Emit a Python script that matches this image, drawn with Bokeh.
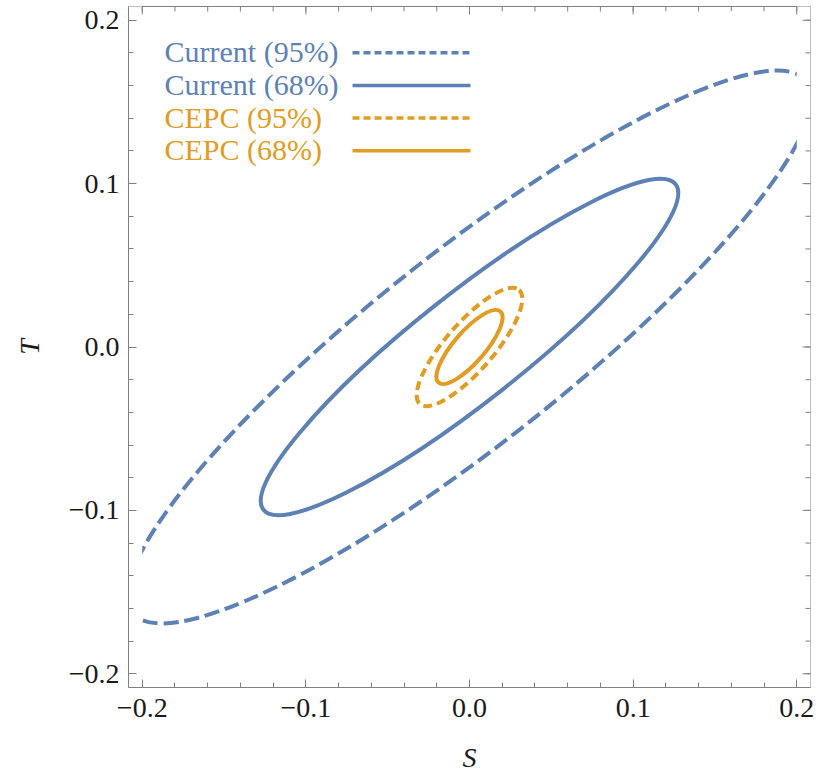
from bokeh.plotting import figure
from bokeh.models import Range1d, LinearAxis, FixedTicker, Label
from bokeh.embed import file_html
from bokeh.resources import INLINE

# ---------------- data ----------------
CONTOUR_NAMES = ["Current (95%)", "Current (68%)", "CEPC (95%)", "CEPC (68%)"]
CENTER_S = [0.0, 0.0, 0.0, 0.0]
CENTER_T = [0.0, 0.0, 0.0, 0.0]
MAJOR_AXIS = [0.5246, 0.3210, 0.0925, 0.0576]   # full length along the major axis
MINOR_AXIS = [0.1174, 0.0660, 0.0293, 0.0190]   # full length along the minor axis
ANGLE_DEG = [38.3, 38.3, 49.0, 49.0]
COLORS = ["#5E81B5", "#5E81B5", "#E19C24", "#E19C24"]
DASHES = ["15 6", "solid", "9 5", "solid"]
LEGEND_DASHES = ["7 4", "solid", "7 4", "solid"]

PLOT_DOMAIN = (-0.2, 0.2)   # region in which the contours were computed
TICKS = [-0.2, -0.1, 0.0, 0.1, 0.2]
TICK_LABELS = ["\u22120.2", "\u22120.1", "0.0", "0.1", "0.2"]
MINOR_TICKS = [round(-0.2 + 0.02 * i, 2) for i in range(21)]
X_LABEL = "S"
Y_LABEL = "T"

# ---------------- layout ----------------
RANGE = 0.2084
FRAME_PX = 682
LEFT_PX, TOP_PX = 128, 6
PX = 2 * RANGE / FRAME_PX          # data units per pixel
FRAME_COLOR = "#808080"
FONT = "Liberation Serif"
MAJ_LEN, MIN_LEN = 8, 5


def dx(px):
    return -RANGE + (px - LEFT_PX) * PX


def dy(py):
    return RANGE - (py - TOP_PX) * PX


p = figure(width=821, height=775, output_backend="svg", toolbar_location=None,
           x_range=Range1d(-RANGE, RANGE), y_range=Range1d(-RANGE, RANGE),
           x_axis_location=None, y_axis_location=None,
           min_border_left=LEFT_PX, min_border_right=821 - LEFT_PX - FRAME_PX,
           min_border_top=TOP_PX, min_border_bottom=775 - TOP_PX - FRAME_PX)
p.outline_line_color = FRAME_COLOR
p.outline_line_width = 1
p.background_fill_color = "white"
p.border_fill_color = "white"
p.grid.visible = False


def make_axis(title, label_standoff, title_standoff):
    ax = LinearAxis(ticker=FixedTicker(ticks=TICKS, minor_ticks=MINOR_TICKS))
    ax.axis_line_color = FRAME_COLOR
    ax.axis_line_width = 1
    ax.major_tick_line_color = FRAME_COLOR
    ax.minor_tick_line_color = FRAME_COLOR
    ax.major_tick_in = MAJ_LEN
    ax.major_tick_out = 0
    ax.minor_tick_in = MIN_LEN
    ax.minor_tick_out = 0
    ax.major_label_overrides = dict(zip(TICKS, TICK_LABELS))
    ax.major_label_text_font = FONT
    ax.major_label_text_font_size = "28px"
    ax.major_label_text_color = "#1a1a1a"
    ax.major_label_standoff = label_standoff
    ax.axis_label = title
    ax.axis_label_standoff = title_standoff
    ax.axis_label_text_font = FONT
    ax.axis_label_text_font_style = "italic"
    ax.axis_label_text_font_size = "28px"
    ax.axis_label_text_color = "#1a1a1a"
    return ax


p.add_layout(make_axis(Y_LABEL, 9, 21), "left")
p.add_layout(make_axis(X_LABEL, 11, 22), "below")

# ---------------- contours ----------------
for i in range(len(CONTOUR_NAMES)):
    p.ellipse(x=[CENTER_S[i]], y=[CENTER_T[i]], width=[MAJOR_AXIS[i]], height=[MINOR_AXIS[i]],
              angle=[ANGLE_DEG[i]], angle_units="deg", fill_color=None,
              line_color=COLORS[i], line_width=4, line_dash=DASHES[i], line_cap="butt")
    if i == 0:
        # contours only exist inside the computed domain
        p.quad(left=[-1.0, PLOT_DOMAIN[1]], right=[PLOT_DOMAIN[0], 1.0], bottom=[-1.0, -1.0], top=[1.0, 1.0],
               fill_color="white", line_color=None)

# ---------------- ticks on the right and top frame edges ----------------
maj_len = [MAJ_LEN * PX] * len(TICKS)
min_len = [MIN_LEN * PX] * len(MINOR_TICKS)
for tk, ln in ((MINOR_TICKS, min_len), (TICKS, maj_len)):
    p.segment(x0=[RANGE - l for l in ln], x1=[RANGE + 1.0] * len(tk), y0=tk, y1=tk,
              line_color=FRAME_COLOR, line_width=1)
    p.segment(x0=tk, x1=tk, y0=[RANGE - l for l in ln], y1=[RANGE + 1.0] * len(tk),
              line_color=FRAME_COLOR, line_width=1)

# ---------------- legend ----------------
LEG_ROWS_PX = [52.3, 85.0, 117.7, 150.4]
for i, name in enumerate(CONTOUR_NAMES):
    yy = LEG_ROWS_PX[i]
    p.line(x=[dx(352), dx(470)], y=[dy(yy), dy(yy)], line_color=COLORS[i],
           line_width=3.5, line_dash=LEGEND_DASHES[i], line_cap="butt")
    p.add_layout(Label(x=dx(164), y=dy(yy - 1), text=name, text_font=FONT,
                       text_font_size="30px", text_color=COLORS[i],
                       text_align="left", text_baseline="alphabetic"))

open("out.html", "w").write(file_html(p, INLINE))
